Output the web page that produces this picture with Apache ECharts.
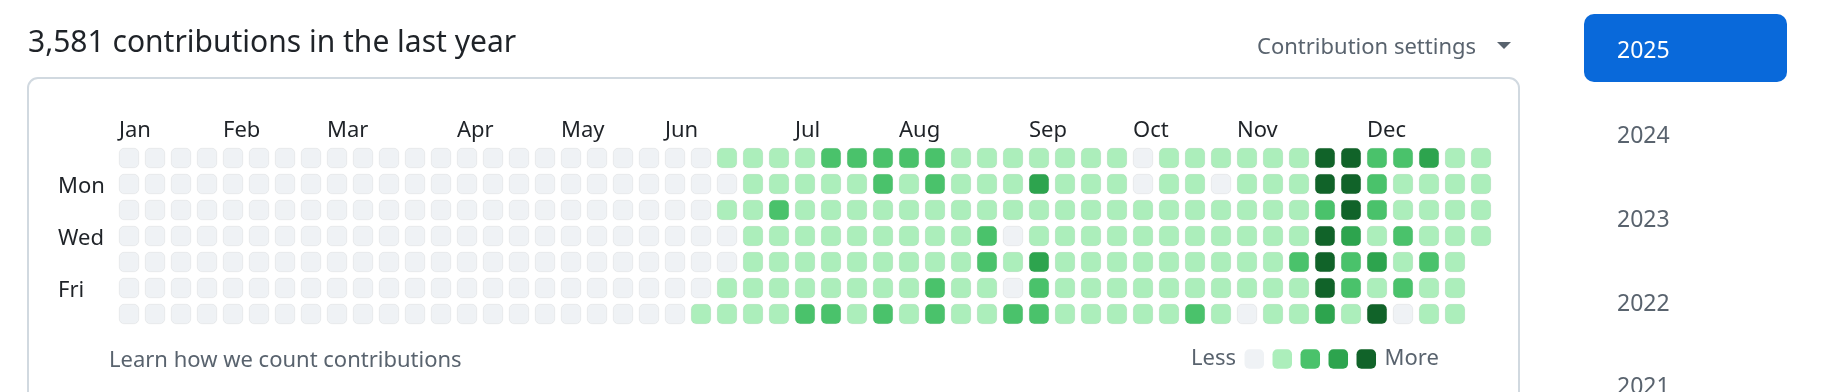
<!DOCTYPE html>
<html>
<head>
<meta charset="utf-8">
<script src="https://cdn.jsdelivr.net/npm/echarts@6/dist/echarts.min.js"></script>
<style>
  html, body { margin: 0; padding: 0; background: #ffffff; }
  #chart { width: 1837px; height: 392px; }
</style>
</head>
<body>
<div id="chart"></div>
<script>
// ---- data ----
const titleText = '3,581 contributions in the last year';
const dayLabels = ['', 'Mon', '', 'Wed', '', 'Fri', ''];
const dayNames = ['Sun', 'Mon', 'Tue', 'Wed', 'Thu', 'Fri', 'Sat'];
const monthNames = ['Jan', 'Feb', 'Mar', 'Apr', 'May', 'Jun', 'Jul', 'Aug', 'Sep', 'Oct', 'Nov', 'Dec'];
const monthWeeks = [0, 4, 8, 13, 17, 21, 26, 30, 35, 39, 43, 48];
const years = ['2025', '2024', '2023', '2022', '2021'];
const levelColors = ['#eff2f5', '#aceebb', '#4ac26b', '#2da44e', '#116329'];

// contribution level (0-4) per week, one array per weekday (53 weeks)
const sun = [0,0,0,0,0,0,0,0,0,0, 0,0,0,0,0,0,0,0,0,0, 0,0,0,1,1,1,1,2,2,2, 2,2,1,1,1,1,1,1,1,0, 1,1,1,1,1,1,4,4,2,2, 3,1,1];
const mon = [0,0,0,0,0,0,0,0,0,0, 0,0,0,0,0,0,0,0,0,0, 0,0,0,0,1,1,1,1,1,2, 1,2,1,1,1,3,1,1,1,0, 1,1,0,1,1,1,4,4,2,1, 1,1,1];
const tue = [0,0,0,0,0,0,0,0,0,0, 0,0,0,0,0,0,0,0,0,0, 0,0,0,1,1,2,1,1,1,1, 1,1,1,1,1,1,1,1,1,1, 1,1,1,1,1,1,2,4,2,1, 1,1,1];
const wed = [0,0,0,0,0,0,0,0,0,0, 0,0,0,0,0,0,0,0,0,0, 0,0,0,0,1,1,1,1,1,1, 1,1,1,2,0,1,1,1,1,1, 1,1,1,1,1,1,4,3,1,2, 1,1,1];
const thu = [0,0,0,0,0,0,0,0,0,0, 0,0,0,0,0,0,0,0,0,0, 0,0,0,0,1,1,1,1,1,1, 1,1,1,2,1,3,1,1,1,1, 1,1,1,1,1,2,4,2,3,1, 2,1];
const fri = [0,0,0,0,0,0,0,0,0,0, 0,0,0,0,0,0,0,0,0,0, 0,0,0,1,1,1,1,1,1,1, 1,2,1,1,0,2,1,1,1,1, 1,1,1,1,1,1,4,2,1,2, 1,1];
const sat = [0,0,0,0,0,0,0,0,0,0, 0,0,0,0,0,0,0,0,0,0, 0,0,1,1,1,1,2,2,1,2, 1,2,1,1,2,2,1,1,1,1, 1,2,1,0,1,1,3,1,4,0, 1,1];

// ---- build ----
const rows = [sun, mon, tue, wed, thu, fri, sat];
const weekCount = sun.length;
const weeks = [];
for (let i = 0; i < weekCount; i++) weeks.push(String(i));
const cells = [];
rows.forEach((row, d) => row.forEach((v, w) => cells.push([w, d, v])));
const monthAt = {};
monthWeeks.forEach((w, i) => { monthAt[w] = monthNames[i]; });

const FONT = '"Noto Sans", "Open Sans", sans-serif';
const GREY = '#59636e';

const chart = echarts.init(document.getElementById('chart'), null, { renderer: 'canvas' });
chart.setOption({
  animation: false,
  backgroundColor: '#ffffff',
  textStyle: { fontFamily: FONT },
  grid: { left: 116, top: 145, width: 1378, height: 182, containLabel: false },
  xAxis: {
    type: 'category',
    data: weeks,
    position: 'top',
    axisLine: { show: false },
    axisTick: { show: false },
    splitLine: { show: false },
    axisLabel: {
      interval: 0,
      margin: 3,
      align: 'left',
      padding: [0, 0, 0, -10],
      fontFamily: FONT,
      fontSize: 22,
      color: '#1f2328',
      formatter: (v, idx) => monthAt[idx] || ''
    }
  },
  yAxis: {
    type: 'category',
    data: dayNames,
    inverse: true,
    axisLine: { show: false },
    axisTick: { show: false },
    splitLine: { show: false },
    axisLabel: {
      interval: 0,
      align: 'left',
      margin: 58,
      fontFamily: FONT,
      fontSize: 22,
      color: '#1f2328',
      formatter: (v, idx) => dayLabels[idx] ? '{d|' + dayLabels[idx] + '}' : '',
      rich: { d: { padding: [5, 0, 0, 0], fontSize: 22, fontFamily: FONT, color: '#1f2328' } }
    }
  },
  visualMap: {
    type: 'piecewise',
    dimension: 2,
    orient: 'horizontal',
    left: 1176,
    top: 333,
    itemWidth: 19.5,
    itemHeight: 19.5,
    itemGap: 8.5,
    itemSymbol: 'roundRect',
    showLabel: false,
    text: ['More', 'Less'],
    textGap: 6,
    textStyle: { color: GREY, fontSize: 22, fontFamily: FONT },
    selectedMode: false,
    hoverLink: false,
    pieces: levelColors.map((c, i) => ({ value: i, color: c }))
  },
  series: [{
    type: 'scatter',
    data: cells,
    symbol: 'roundRect',
    symbolSize: 19.5,
    itemStyle: { opacity: 1, borderColor: 'rgba(31,35,40,0.06)', borderWidth: 1 },
    emphasis: { disabled: true },
    silent: true
  }],
  graphic: [
    { type: 'rect', silent: true, z: -1,
      shape: { x: 28, y: 78, width: 1491, height: 340, r: 10 },
      style: { fill: '#ffffff', stroke: '#d1d9e0', lineWidth: 2 } },
    { type: 'text', x: 28, y: 43, silent: true,
      style: { text: titleText, font: '30px ' + FONT, fill: '#1f2328', verticalAlign: 'middle' } },
    { type: 'text', x: 1257, y: 48, silent: true,
      style: { text: 'Contribution settings', font: '22px ' + FONT, fill: GREY, verticalAlign: 'middle' } },
    { type: 'polygon', silent: true,
      shape: { points: [[1497, 42], [1511, 42], [1504, 49]] },
      style: { fill: GREY } },
    { type: 'text', x: 109, y: 361, silent: true,
      style: { text: 'Learn how we count contributions', font: '22px ' + FONT, fill: GREY, verticalAlign: 'middle' } },
    { type: 'rect', silent: true,
      shape: { x: 1584, y: 14, width: 203, height: 68, r: 10 },
      style: { fill: '#0969da' } }
  ].concat(years.map((y, i) => ({
    type: 'text', x: 1617, y: [51.5, 136.5, 220.5, 304.5, 387.5][i], silent: true,
    style: { text: y, font: '23px ' + FONT, fill: i === 0 ? '#ffffff' : GREY, verticalAlign: 'middle' }
  })))
});
</script>
</body>
</html>
